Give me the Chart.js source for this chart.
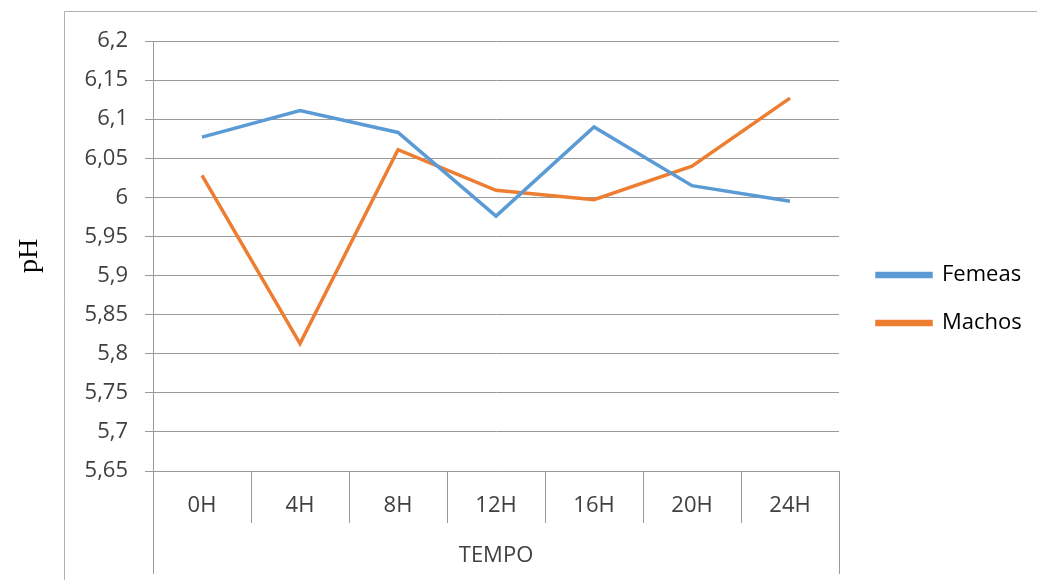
<!DOCTYPE html>
<html>
<head>
<meta charset="utf-8">
<script src="https://cdn.jsdelivr.net/npm/chart.js@4/dist/chart.umd.min.js"></script>
<style>
  html, body { margin: 0; padding: 0; background: #ffffff; }
  #wrap { width: 1037px; height: 580px; position: relative; }
</style>
</head>
<body>
<div id="wrap"><canvas id="c"></canvas></div>
<script>
const categories = ['0H', '4H', '8H', '12H', '16H', '20H', '24H'];
const femeas = [6.077, 6.111, 6.083, 5.976, 6.090, 6.015, 5.995];
const machos = [6.028, 5.813, 6.061, 6.009, 5.997, 6.040, 6.127];
const yTickValues = [5.65, 5.7, 5.75, 5.8, 5.85, 5.9, 5.95, 6, 6.05, 6.1, 6.15, 6.2];
const yTickLabels = ['5,65', '5,7', '5,75', '5,8', '5,85', '5,9', '5,95', '6', '6,05', '6,1', '6,15', '6,2'];

const GRID = '#9a9a9a';
const LABEL_FONT = { family: '"Open Sans", Lato, sans-serif', size: 22 };

function alignPx(x) { return Math.round(x - 0.5) + 0.5; }

const framePlugin = {
  id: 'frame',
  beforeDraw(chart) {
    const { ctx } = chart;
    ctx.save();
    ctx.strokeStyle = '#b0b0b0';
    ctx.lineWidth = 1;
    ctx.beginPath();
    ctx.moveTo(64.5, chart.height + 2);
    ctx.lineTo(64.5, 11.5);
    ctx.lineTo(chart.width + 2, 11.5);
    ctx.stroke();
    ctx.restore();
  },
  afterDraw(chart) {
    const { ctx, chartArea } = chart;
    ctx.save();
    ctx.strokeStyle = GRID;
    ctx.lineWidth = 1;
    ctx.beginPath();
    const l = alignPx(chartArea.left);
    const r = alignPx(chartArea.right);
    ctx.moveTo(l, chartArea.bottom);
    ctx.lineTo(l, chart.height - 6);
    ctx.moveTo(r, chartArea.bottom);
    ctx.lineTo(r, chart.height - 6);
    ctx.stroke();
    ctx.restore();
  }
};

new Chart(document.getElementById('c'), {
  type: 'line',
  data: {
    labels: categories,
    datasets: [
      {
        label: 'Femeas',
        data: femeas,
        borderColor: '#5B9BD5',
        backgroundColor: '#5B9BD5',
        borderWidth: 3.5,
        pointRadius: 0,
        tension: 0
      },
      {
        label: 'Machos',
        data: machos,
        borderColor: '#ED7D31',
        backgroundColor: '#ED7D31',
        borderWidth: 3.5,
        pointRadius: 0,
        tension: 0
      }
    ]
  },
  options: {
    responsive: true,
    maintainAspectRatio: false,
    animation: false,
    layout: { padding: { top: 41, bottom: 23, left: 0, right: 12 } },
    plugins: {
      tooltip: { enabled: false },
      legend: {
        position: 'right',
        maxWidth: 174,
        labels: {
          boxWidth: 54,
          boxHeight: 3,
          padding: 26,
          color: '#000000',
          font: LABEL_FONT
        }
      }
    },
    scales: {
      x: {
        offset: true,
        grid: {
          offset: true,
          drawOnChartArea: false,
          tickLength: 52,
          color: GRID
        },
        border: { display: true, color: GRID },
        ticks: {
          padding: -30,
          color: '#404040',
          font: LABEL_FONT,
          maxRotation: 0
        },
        title: {
          display: true,
          text: 'TEMPO',
          color: '#404040',
          font: LABEL_FONT,
          padding: { top: 0, bottom: -12 }
        },
        afterFit(scale) { scale.height = 86; }
      },
      y: {
        min: 5.65,
        max: 6.2,
        afterBuildTicks(scale) {
          scale.ticks = yTickValues.map(v => ({ value: v }));
        },
        grid: {
          color: GRID,
          tickLength: 8
        },
        border: { display: true, color: GRID },
        ticks: {
          padding: 17,
          color: '#404040',
          font: LABEL_FONT,
          callback: (v, i) => yTickLabels[i]
        },
        title: {
          display: true,
          text: 'pH',
          color: '#000000',
          font: { family: '"Liberation Serif", "Times New Roman", serif', size: 28 },
          padding: { top: 13, bottom: 0 }
        },
        afterFit(scale) { scale.width = 153; }
      },
      spacer: {
        type: 'linear',
        position: 'right',
        display: true,
        grid: { display: false },
        border: { display: false },
        ticks: { display: false },
        afterFit(scale) { scale.width = 12; }
      }
    }
  },
  plugins: [framePlugin]
});
</script>
</body>
</html>
